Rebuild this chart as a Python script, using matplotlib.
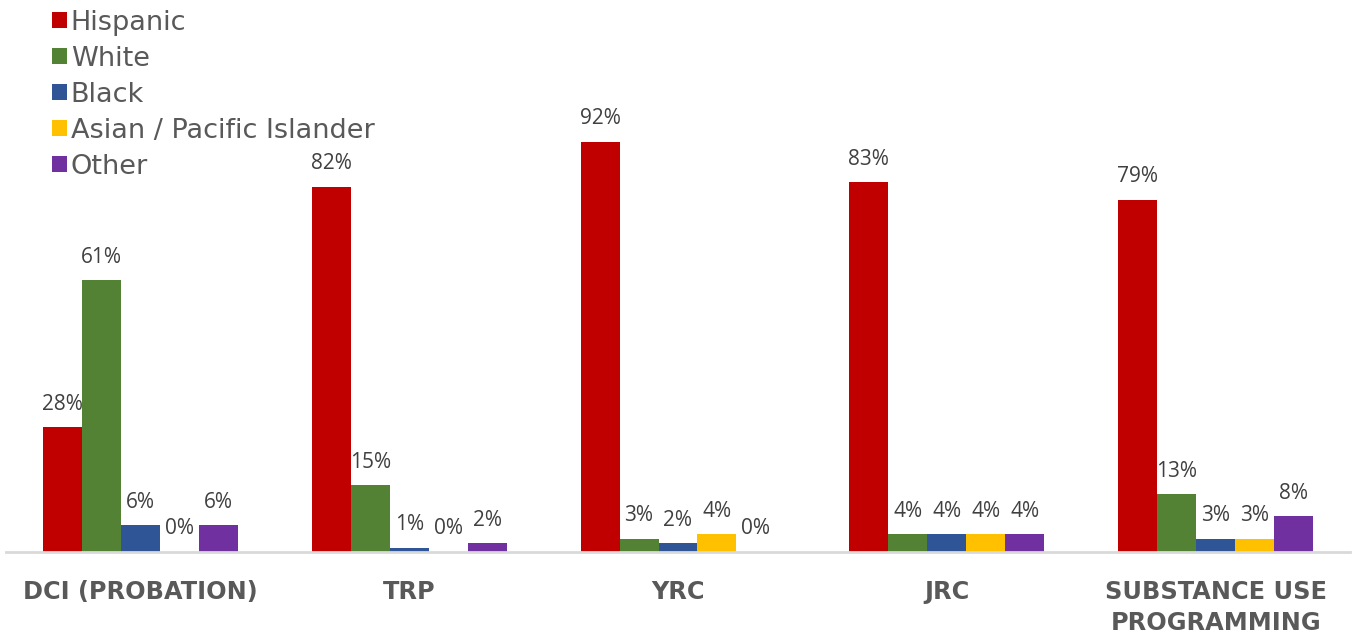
import matplotlib.pyplot as plt
import numpy as np

# data
groups = ["DCI (PROBATION)", "TRP", "YRC", "JRC", "SUBSTANCE USE\nPROGRAMMING"]
series = ["Hispanic", "White", "Black", "Asian / Pacific Islander", "Other"]
hispanic = [28, 82, 92, 83, 79]
white = [61, 15, 3, 4, 13]
black = [6, 1, 2, 4, 3]
asian = [0, 0, 4, 4, 3]
other = [6, 2, 0, 4, 8]
values = [hispanic, white, black, asian, other]
colors = ["#C00000", "#548235", "#2F5597", "#FFC000", "#7030A0"]

fig = plt.figure(figsize=(13.55, 6.36), dpi=100)
ax = fig.add_axes([6 / 1355, 1 - 552 / 636, 1344 / 1355, 552 / 636])

x = np.arange(len(groups))
w = 0.145
handles = []
for i, (name, vals, c) in enumerate(zip(series, values, colors)):
    pos = x + (i - 2) * w
    b = ax.bar(pos, vals, width=w, color=c, label=name)
    handles.append(b)
    for p, v in zip(pos, vals):
        ax.annotate(f"{v}%", (p, v), xytext=(0, 9), textcoords="offset points",
                    ha="center", va="bottom", fontsize=15, color="#404040",
                    family="Open Sans")

ax.set_xlim(-0.5, 4.5)
ax.set_ylim(0, 552 / 4.457)
ax.set_yticks([])
ax.set_xticks(x)
ax.set_xticklabels(groups, fontsize=17.3, fontweight="bold", color="#595959",
                   family="DejaVu Sans", linespacing=1.4)
ax.tick_params(axis="x", length=0, pad=20)
for s in ["top", "right", "left"]:
    ax.spines[s].set_visible(False)
ax.spines["bottom"].set_color("#D9D9D9")
ax.spines["bottom"].set_linewidth(2)

leg = fig.legend(handles=handles, loc="upper left", bbox_to_anchor=(41 / 1355, 1 + 1 / 636),
                 frameon=False, fontsize=19.5, handlelength=0.55, handleheight=0.55,
                 handletextpad=0.15, labelspacing=0.37, borderaxespad=0)
for t in leg.get_texts():
    t.set_color("#595959")

fig.savefig("out.png", dpi=100)
